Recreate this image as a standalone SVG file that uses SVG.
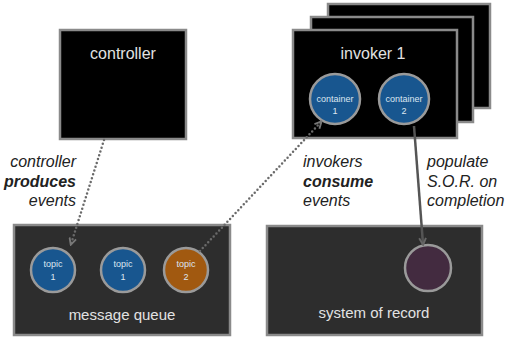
<svg xmlns="http://www.w3.org/2000/svg" width="509" height="337" viewBox="0 0 509 337">
<style>
.box{fill:#000;stroke:#8a8a8a;stroke-width:2.5}
.dbox{fill:#2d2d2d;stroke:#8a8a8a;stroke-width:2.5}
.title{font-family:"Liberation Sans",Arial,sans-serif;font-size:16px;fill:#e2e2e2;text-anchor:middle}
.sub{font-family:"Liberation Sans",Arial,sans-serif;font-size:15px;fill:#e2e2e2;text-anchor:middle}
.small{font-family:"Liberation Sans",Arial,sans-serif;font-size:9px;fill:#dde6f0;text-anchor:middle}
.blue{fill:#18568f;stroke:#9a9a9a;stroke-width:2.5}
.orange{fill:#a15910;stroke:#9a9a9a;stroke-width:2.5}
.purple{fill:#432b40;stroke:#9a9a9a;stroke-width:2.5}
.lbl{font-family:"Liberation Sans",Arial,sans-serif;font-size:16px;font-style:italic;fill:#222}
.b{font-weight:bold}
.dot{fill:none;stroke:#6a6a6a;stroke-width:2.5;stroke-linecap:round;stroke-dasharray:0 4}
.solid{fill:none;stroke:#555;stroke-width:2.5}
</style>
<defs>
<marker id="ad" viewBox="0 0 10 10" refX="8" refY="5" markerWidth="3.4" markerHeight="3.4" orient="auto" markerUnits="strokeWidth">
<path d="M1,1 L9,5 L1,9" fill="none" stroke="#777" stroke-width="2.2"/>
</marker>
<marker id="as" viewBox="0 0 10 10" refX="8" refY="5" markerWidth="3.4" markerHeight="3.4" orient="auto" markerUnits="strokeWidth">
<path d="M1,1 L9,5 L1,9" fill="none" stroke="#666" stroke-width="2.2"/>
</marker>
</defs>
<g id="controller">
<rect class="box" x="60" y="30" width="126" height="109"/>
<text class="title" x="123" y="59">controller</text>
</g>
<g id="invoker-stack">
<rect class="box" x="328" y="4" width="162" height="104"/>
<rect class="box" x="311" y="17" width="162" height="105"/>
</g>
<g id="invoker1">
<rect class="box" x="293" y="30" width="164" height="108"/>
<text class="title" x="373" y="59">invoker 1</text>
</g>
<g id="container1">
<circle class="blue" cx="335" cy="99" r="25"/>
<text class="small" x="335" y="102">container</text>
<text class="small" x="335" y="114">1</text>
</g>
<g id="container2">
<circle class="blue" cx="404" cy="99" r="25"/>
<text class="small" x="404" y="102">container</text>
<text class="small" x="404" y="114">2</text>
</g>
<g id="message-queue">
<rect class="dbox" x="14" y="225" width="216" height="110"/>
<text class="sub" x="122" y="320">message queue</text>
</g>
<g id="topic1a">
<circle class="blue" cx="53" cy="270" r="22"/>
<text class="small" x="53" y="267">topic</text>
<text class="small" x="53" y="280">1</text>
</g>
<g id="topic1b">
<circle class="blue" cx="123" cy="270" r="22"/>
<text class="small" x="123" y="267">topic</text>
<text class="small" x="123" y="280">1</text>
</g>
<g id="topic2">
<circle class="orange" cx="186" cy="270" r="22"/>
<text class="small" x="186" y="267">topic</text>
<text class="small" x="186" y="280">2</text>
</g>
<g id="system-of-record">
<rect class="dbox" x="267" y="226" width="215" height="109"/>
<circle class="purple" cx="428" cy="268" r="23"/>
<text class="sub" x="374" y="318">system of record</text>
</g>
<g id="connectors">
<path class="dot" d="M104,140 L71,244" marker-end="url(#ad)"/>
<path class="dot" d="M200,251 L321,122" marker-end="url(#ad)"/>
<path class="solid" d="M414,126 L423,244" marker-end="url(#as)"/>
</g>
<g id="labels">
<text class="lbl" x="76" y="167" text-anchor="end">controller</text>
<text class="lbl b" x="76" y="187" text-anchor="end">produces</text>
<text class="lbl" x="76" y="206" text-anchor="end">events</text>
<text class="lbl" x="303" y="167">invokers</text>
<text class="lbl b" x="303" y="187">consume</text>
<text class="lbl" x="303" y="206">events</text>
<text class="lbl" x="427" y="167">populate</text>
<text class="lbl" x="427" y="187">S.O.R. on</text>
<text class="lbl" x="427" y="206">completion</text>
</g>
</svg>
